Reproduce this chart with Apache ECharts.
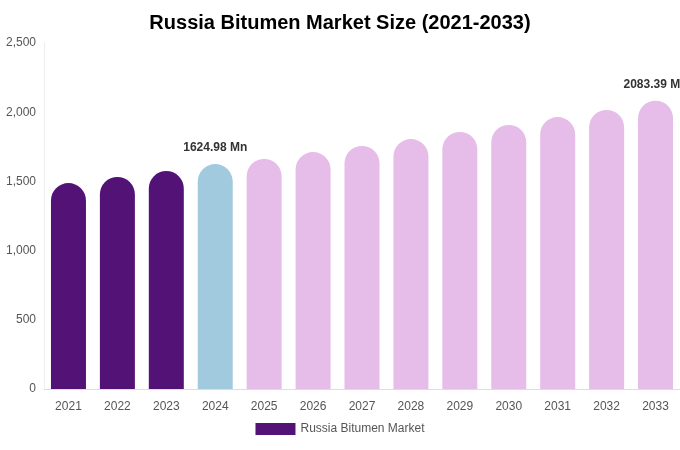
<!DOCTYPE html><html><head><meta charset="utf-8"><script src="https://cdn.jsdelivr.net/npm/echarts@6/dist/echarts.min.js"></script></head><body style="margin:0"><div id="c" style="width:680px;height:450px"></div><script>
const years=['2021','2022','2023','2024','2025','2026','2027','2028','2029','2030','2031','2032','2033'];
const values=[1488,1532,1575,1624.98,1662,1712,1756,1806,1857,1908,1965,2016,2083.39];
const labelled={3:'1624.98 Mn',12:'2083.39 Mn'};
const colorFor=i=>i<3?'#531275':(i===3?'#a2cadf':'#e6bce8');
const ch=echarts.init(document.getElementById('c'));
ch.setOption({
 title:{text:'Russia Bitumen Market Size (2021-2033)',left:'center',top:8,textStyle:{fontFamily:'Liberation Sans',fontSize:20,fontWeight:'bold',color:'#000'}},
 grid:{left:44,right:0,top:43,bottom:61},
 legend:{bottom:10,itemWidth:40,itemHeight:12,icon:'rect',textStyle:{color:'#555',fontFamily:'Liberation Sans',fontSize:12},data:[{name:'Russia Bitumen Market',itemStyle:{color:'#531275'}}]},
 xAxis:{type:'category',data:years,axisTick:{show:false},axisLine:{lineStyle:{color:'#ddd'}},axisLabel:{color:'#555',fontFamily:'Liberation Sans',fontSize:12,margin:12}},
 yAxis:{type:'value',min:0,max:2500,interval:500,splitLine:{show:false},axisLine:{show:true,lineStyle:{color:'#eee'}},axisLabel:{color:'#555',fontFamily:'Liberation Sans',fontSize:12,formatter:v=>v.toLocaleString('en-US')}},
 series:[{name:'Russia Bitumen Market',type:'bar',barWidth:35,
  data:values.map((v,i)=>({value:v,itemStyle:{color:colorFor(i),borderRadius:[18,18,0,0]},label:{show:!!labelled[i],position:'top',distance:10,formatter:labelled[i]||'',fontWeight:'bold',color:'#333',fontFamily:'Liberation Sans',fontSize:12}}))}]
});
</script></body></html>
